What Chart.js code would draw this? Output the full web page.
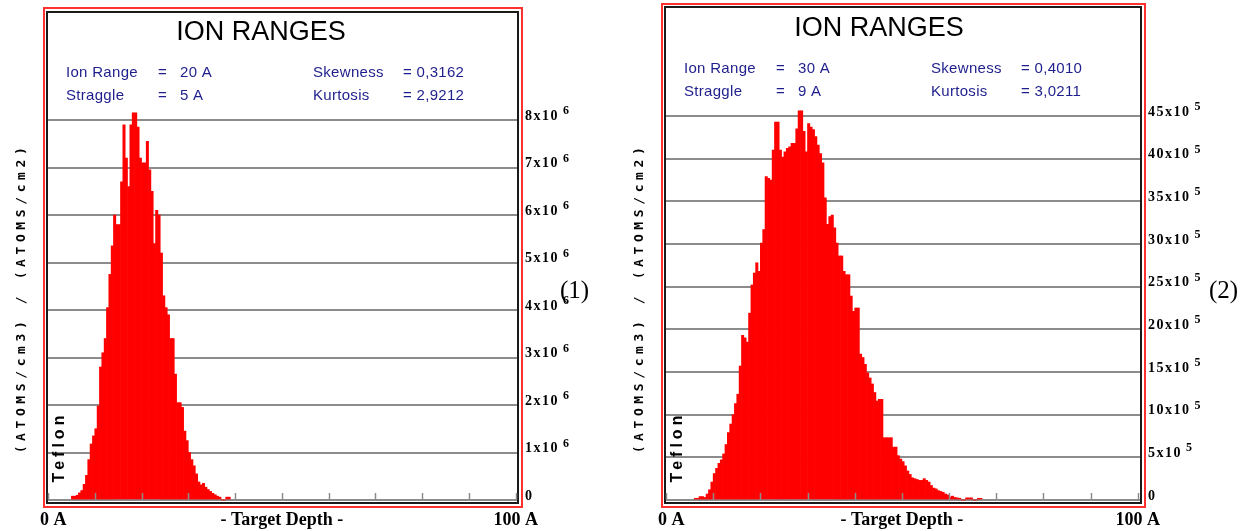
<!DOCTYPE html>
<html>
<head>
<meta charset="utf-8">
<script src="https://cdn.jsdelivr.net/npm/chart.js@4/dist/chart.umd.min.js"></script>
<style>
    body { margin: 0; background: #fff; }
    canvas { position: absolute; top: 0; }
    #chart1 { left: 0; }
    #chart2 { left: 620px; }
</style>
</head>
<body>
<canvas id="chart1" width="620" height="531"></canvas>
<canvas id="chart2" width="633" height="531"></canvas>
<script>
// histogram bins are 0.5 A wide
const binWidth = 0.5;

// panel (1) - counts in units of 10^6, first bin starts at 5 A
const firstBin1 = 5.0;
const counts1 = [0.08, 0.08, 0.1, 0.15, 0.2, 0.33, 0.52, 0.85, 1.18, 1.35,
    1.5, 1.98, 2.8, 3.1, 3.4, 4.05, 4.75, 5.35, 6.0, 5.8,
    5.8, 6.7, 7.9, 7.2, 6.6, 7.9, 8.15, 8.15, 7.85, 7.2,
    7.1, 7.1, 7.55, 6.95, 6.5, 5.4, 6.1, 6.0, 5.2, 4.3,
    4.05, 3.9, 3.4, 3.4, 2.65, 2.05, 2.05, 1.95, 1.45, 1.25,
    1.0, 0.85, 0.72, 0.55, 0.38, 0.32, 0.35, 0.27, 0.22, 0.18,
    0.14, 0.11, 0.08, 0.06, 0, 0, 0.06, 0.06];
const stats1 = [["Ion Range", "20 A", "Skewness", "= 0,3162"],
                ["Straggle", "5 A", "Kurtosis", "= 2,9212"]];
const yMax1 = 8, yStep1 = 1, yExp1 = "6";

// panel (2) - counts in units of 10^5, first bin starts at 6 A
const firstBin2 = 6.0;
const counts2 = [0.2, 0.2, 0.4, 0.4, 0.3, 0.7, 1.2, 2.1, 3.1, 3.7,
    4.3, 4.7, 5.4, 6.5, 7.9, 8.9, 10.0, 11.3, 12.4, 15.7,
    19.3, 19.0, 18.5, 21.9, 25.2, 26.6, 27.8, 26.8, 30.1, 31.7,
    37.9, 37.7, 37.5, 41.0, 44.3, 44.3, 41.0, 40.2, 40.8, 41.2,
    41.4, 41.8, 41.8, 43.5, 45.6, 45.6, 43.2, 40.8, 44.1, 43.7,
    43.4, 42.6, 41.6, 40.6, 39.5, 35.4, 32.3, 33.2, 33.4, 31.9,
    30.1, 28.6, 28.6, 26.8, 26.4, 26.4, 23.9, 22.1, 22.5, 22.5,
    17.1, 16.7, 15.9, 14.9, 14.3, 13.6, 12.6, 11.6, 11.8, 11.8,
    7.3, 7.3, 7.3, 7.3, 6.2, 6.2, 5.2, 4.8, 4.5, 4.0,
    3.4, 3.0, 2.6, 2.5, 2.4, 2.3, 2.3, 2.5, 2.3, 2.1,
    1.7, 1.4, 1.3, 1.1, 1.0, 0.9, 0.7, 0.6, 0.35, 0.45,
    0.3, 0.25, 0.2, 0, 0, 0.25, 0.25, 0.25, 0, 0,
    0.2, 0.2];
const stats2 = [["Ion Range", "30 A", "Skewness", "= 0,4010"],
                ["Straggle", "9 A", "Kurtosis", "= 3,0211"]];
const yMax2 = 45, yStep2 = 5, yExp2 = "5";

const xTicks = [0, 10, 20, 30, 40, 50, 60, 70, 80, 90, 100];
const xLabels = ["0 A", "- Target Depth -", "100 A"];
const title = "ION RANGES";
const yTitle = "(ATOMS/cm3) / (ATOMS/cm2)";
const material = "Teflon";

const RED = "#ff0000";
const GRID = "#8c8c8c";
const NAVY = "#1e1e8c";

function toPoints(first, counts) {
    return counts.map((v, i) => ({ x: first + binWidth * (i + 0.5), y: v }));
}

function rotatedText(ctx, text, x, y, font, spacing) {
    ctx.save();
    ctx.translate(x, y);
    ctx.rotate(-Math.PI / 2);
    ctx.font = font;
    ctx.letterSpacing = spacing;
    ctx.textAlign = "center";
    ctx.textBaseline = "middle";
    ctx.fillStyle = "#000";
    ctx.fillText(text, 0, 0);
    ctx.restore();
}

function decor(p) {
    return {
        id: "decor",
        afterDraw(chart) {
            const ctx = chart.ctx;
            const area = chart.chartArea;
            const xs = chart.scales.x;
            const ys = chart.scales.y;
            ctx.save();

            // double frame
            ctx.lineWidth = 2;
            ctx.strokeStyle = "#ff3030";
            ctx.strokeRect(p.red[0], p.red[1], p.red[2] - p.red[0], p.red[3] - p.red[1]);
            ctx.strokeStyle = "#1a1a1a";
            ctx.strokeRect(p.blk[0], p.blk[1], p.blk[2] - p.blk[0], p.blk[3] - p.blk[1]);

            // title
            ctx.fillStyle = "#000";
            ctx.font = "27px 'Liberation Sans', Arial";
            ctx.textAlign = "center";
            ctx.textBaseline = "middle";
            ctx.fillText(title, p.red[0] + 217, p.red[1] + 25);

            // stats block
            ctx.fillStyle = NAVY;
            ctx.font = "15px 'Liberation Sans', Arial";
            ctx.letterSpacing = "0.3px";
            ctx.textAlign = "left";
            p.stats.forEach((row, r) => {
                const y = p.red[1] + 65 + r * 23;
                const fl = p.red[0];
                ctx.fillText(row[0], fl + 22, y);
                ctx.fillText("=", fl + 114, y);
                ctx.fillText(row[1], fl + 136, y);
                ctx.fillText(row[2], fl + 269, y);
                ctx.fillText(row[3], fl + 359, y);
            });
            ctx.letterSpacing = "0px";

            // small depth ticks on the base line
            ctx.strokeStyle = GRID;
            ctx.lineWidth = 1.5;
            xTicks.forEach(t => {
                const x = Math.round(xs.getPixelForValue(t)) + 0.5;
                ctx.beginPath();
                ctx.moveTo(x, area.bottom);
                ctx.lineTo(x, area.bottom - 7);
                ctx.stroke();
            });

            // y tick labels with exponent
            ctx.fillStyle = "#000";
            ctx.textBaseline = "middle";
            ys.ticks.forEach(t => {
                const y = ys.getPixelForValue(t.value) - 4;
                const x = area.right + 7;
                ctx.font = "bold 14px 'Liberation Serif', 'Times New Roman'";
                ctx.letterSpacing = "1.5px";
                if (t.value === 0) {
                    ctx.fillText("0", x, y);
                    return;
                }
                const base = t.value + "x10";
                ctx.fillText(base, x, y);
                const w = ctx.measureText(base).width;
                ctx.font = "bold 12px 'Liberation Serif', 'Times New Roman'";
                ctx.letterSpacing = "0px";
                ctx.fillText(p.exp, x + w + 4, y - 5);
            });
            ctx.letterSpacing = "0px";

            // depth labels
            ctx.font = "bold 18px 'Liberation Serif', 'Times New Roman'";
            ctx.textBaseline = "alphabetic";
            ctx.textAlign = "left";
            ctx.fillText(xLabels[0], xs.getPixelForValue(0) - 8, 525);
            ctx.textAlign = "center";
            ctx.fillText(xLabels[1], xs.getPixelForValue(50), 525);
            ctx.fillText(xLabels[2], xs.getPixelForValue(100), 525);

            // rotated labels
            rotatedText(ctx, yTitle, p.red[0] - 22, 298, "bold 13px 'DejaVu Sans Mono', monospace", "4.6px");
            rotatedText(ctx, material, p.red[0] + 16, 447, "bold 16px 'Liberation Sans', Arial", "4px");

            // panel number
            ctx.font = "25px 'Liberation Serif', 'Times New Roman'";
            ctx.textAlign = "left";
            ctx.textBaseline = "alphabetic";
            ctx.fillStyle = "#000";
            ctx.fillText(p.panel, p.panelX, 298);

            ctx.restore();
        }
    };
}

function makeChart(id, points, yMax, yStep, xMax, padding, p) {
    const ctx = document.getElementById(id).getContext("2d");
    return new Chart(ctx, {
        type: "bar",
        data: {
            datasets: [{
                data: points,
                backgroundColor: RED,
                borderWidth: 0,
                barPercentage: 1,
                categoryPercentage: 1,
                clip: false
            }]
        },
        options: {
            responsive: false,
            animation: false,
            layout: { padding: padding },
            plugins: { legend: { display: false }, tooltip: { enabled: false } },
            scales: {
                x: { type: "linear", min: 0, max: xMax, offset: false, display: false },
                y: {
                    min: 0,
                    max: yMax,
                    z: 1,
                    ticks: { stepSize: yStep, display: false },
                    grid: { color: GRID, lineWidth: 2, drawTicks: false },
                    border: { display: false }
                }
            }
        },
        plugins: [decor(p)]
    });
}

makeChart("chart1", toPoints(firstBin1, counts1), yMax1, yStep1, 100.5,
    { left: 48, right: 102, top: 120, bottom: 31 },
    { red: [44, 8, 522, 507], blk: [47, 12, 518, 503], stats: stats1, exp: yExp1, panel: "(1)", panelX: 560 });

makeChart("chart2", toPoints(firstBin2, counts2), yMax2, yStep2, 100.7,
    { left: 46, right: 112, top: 116, bottom: 31 },
    { red: [42, 4, 525, 507], blk: [45, 7, 521, 503], stats: stats2, exp: yExp2, panel: "(2)", panelX: 589 });
</script>
</body>
</html>
